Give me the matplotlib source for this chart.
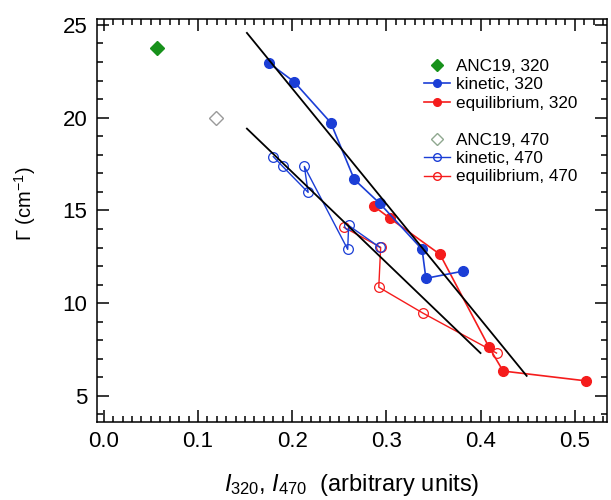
import matplotlib
matplotlib.use("Agg")
import matplotlib.pyplot as plt
from matplotlib.lines import Line2D
from matplotlib.ticker import MultipleLocator

plt.rcParams["font.family"] = ["Liberation Sans", "DejaVu Sans"]
plt.rcParams["mathtext.fontset"] = "custom"
plt.rcParams["mathtext.rm"] = "Liberation Sans"
plt.rcParams["mathtext.it"] = "Liberation Sans:italic"

# ─── Data ────────────────────────────────────────────────────
anc_320_x, anc_320_y = [0.057], [23.76]
anc_470_x, anc_470_y = [0.119], [20.0]

kin_320_x = [0.175, 0.202, 0.241, 0.266, 0.293, 0.338, 0.342, 0.381]
kin_320_y = [22.96, 21.94, 19.73, 16.67, 15.38, 12.90, 11.34, 11.72]

eq_320_x = [0.287, 0.304, 0.357, 0.409, 0.424, 0.512]
eq_320_y = [15.22, 14.57, 12.63, 7.63, 6.34, 5.81]

kin_470_x = [0.180, 0.190, 0.217, 0.213, 0.259, 0.260, 0.293]
kin_470_y = [17.90, 17.37, 15.97, 17.37, 12.90, 14.19, 13.01]

eq_470_x = [0.255, 0.294, 0.292, 0.339, 0.417]
eq_470_y = [14.09, 13.01, 10.86, 9.46, 7.31]

# linear fits (end points)
fit_320_x, fit_320_y = [0.152, 0.449], [24.57, 6.08]
fit_470_x, fit_470_y = [0.152, 0.400], [19.41, 7.31]

BLUE = "#1b3ed6"
RED = "#f51c1c"
GREEN = "#17911b"

fig = plt.figure(figsize=(6.11, 5.0), dpi=100)
ax = fig.add_axes([0.159, 0.157, 0.834, 0.805])

ax.plot(fit_320_x, fit_320_y, color="black", lw=1.3, zorder=4)
ax.plot(fit_470_x, fit_470_y, color="black", lw=1.3, zorder=4)

ax.plot(anc_320_x, anc_320_y, "D", color=GREEN, ms=7, ls="none",
        label="ANC19, 320")
ax.plot(kin_320_x, kin_320_y, "-o", color=BLUE, lw=1.2, ms=7,
        label="kinetic, 320", zorder=3)
ax.plot(eq_320_x, eq_320_y, "-o", color=RED, lw=1.2, ms=7,
        label="equilibrium, 320", zorder=2)

ax.plot(anc_470_x, anc_470_y, "D", mfc="none", mec="#9a9a9a", mew=1.0,
        ms=7, ls="none")
ax.plot(kin_470_x, kin_470_y, "-o", color=BLUE, mfc="none", lw=1.0, ms=7,
        mew=0.9, zorder=3)
ax.plot(eq_470_x, eq_470_y, "-o", color=RED, mfc="none", lw=1.0, ms=7,
        mew=0.9, zorder=2)

ax.set_xlim(-0.007, 0.534)
ax.set_ylim(3.62, 25.32)
ax.xaxis.set_major_locator(MultipleLocator(0.1))
ax.xaxis.set_minor_locator(MultipleLocator(0.01))
ax.yaxis.set_major_locator(MultipleLocator(5))
ax.yaxis.set_minor_locator(MultipleLocator(1))
ax.xaxis.set_major_formatter(lambda v, p: f"{v:.1f}")
ax.tick_params(which="both", direction="in", top=True, right=True,
               labelsize=16, width=1.1)
ax.tick_params(which="major", length=8.5, pad=7)
ax.tick_params(which="minor", length=4)
for s in ax.spines.values():
    s.set_linewidth(1.1)

ax.set_xlabel(r"$I_{320}$, $I_{470}$  (arbitrary units)", fontsize=17)
ax.xaxis.set_label_coords(0.5, -0.125)
ax.set_ylabel(r"$\Gamma$ (cm$^{-1}$)", fontsize=14.5)
ax.yaxis.set_label_coords(-0.116, 0.54)

# legend: two groups separated by a blank row
handles = [
    Line2D([], [], marker="D", color=GREEN, ls="none", ms=6),
    Line2D([], [], marker="o", color=BLUE, lw=1.2, ms=5.5),
    Line2D([], [], marker="o", color=RED, lw=1.2, ms=5.5),
    Line2D([], [], ls="none"),
    Line2D([], [], marker="D", mfc="none", mec="#8fa88f", ls="none", ms=6),
    Line2D([], [], marker="o", color=BLUE, mfc="none", lw=1.0, ms=5.5),
    Line2D([], [], marker="o", color=RED, mfc="none", lw=1.0, ms=5.5),
]
labels = ["ANC19, 320", "kinetic, 320", "equilibrium, 320", " ",
          "ANC19, 470", "kinetic, 470", "equilibrium, 470"]
ax.legend(handles, labels, loc="upper left",
          bbox_to_anchor=(424 / 611, 1 - 59 / 500),
          bbox_transform=fig.transFigure, frameon=False, fontsize=12.3,
          handlelength=1.5, handletextpad=0.4, labelspacing=0.2,
          borderpad=0, borderaxespad=0)

fig.savefig("out.png", dpi=100)
